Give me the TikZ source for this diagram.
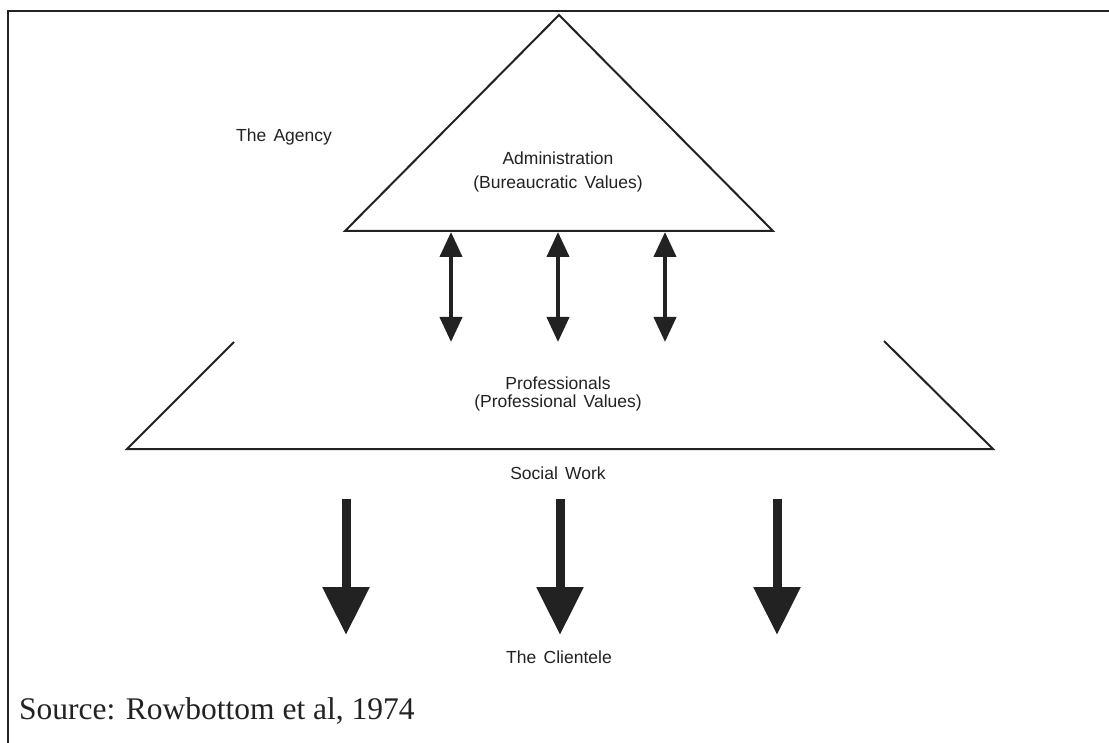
\documentclass[tikz,border=0pt]{standalone}
\usepackage{fontspec}
\setsansfont{Liberation Sans}[WordSpace=1.5]
\setmainfont{Liberation Serif}
\usetikzlibrary{arrows.meta}
\definecolor{ink}{HTML}{222222}
\begin{document}
\begin{tikzpicture}[x=1pt,y=-1pt,
  outline/.style={draw=ink,line width=2pt,line join=miter},
  lbl/.style={inner sep=0pt,font=\sffamily\fontsize{17.5}{21}\selectfont,text=ink,align=center},
  twoway/.style={draw=ink,line width=4pt,
    {Triangle[width=22pt,length=25pt]}-{Triangle[width=22pt,length=25pt]}},
  flow/.style={draw=ink,line width=9pt,-{Triangle[width=45pt,length=48pt]}}]
\useasboundingbox (0,0) rectangle (1109,743);
\fill[white] (0,0) rectangle (1109,743);

% frame
\draw[draw=ink,line width=2.5pt] (8,743) -- (8,11) -- (1109,11);

% administration triangle
\draw[outline] (345,231) -- (559,15) -- (773,231) -- cycle;

% professionals trapezoid (open at the top)
\draw[outline] (234,342) -- (127,449) -- (993,449) -- (884,341);

% labels
\node[lbl] (agency) at (284,137) {The Agency};
\node[lbl] (admin) at (558,158) {Administration};
\node[lbl] (bureau) at (558,184) {(Bureaucratic Values)};
\node[lbl] (prof) at (558,383) {Professionals};
\node[lbl] (profval) at (558,403) {(Professional Values)};
\node[lbl] (social) at (558,473) {Social Work};
\node[lbl] (client) at (559,657) {The Clientele};
\node[anchor=west,inner sep=0pt,font=\fontsize{31.5}{36}\selectfont,text=ink] (source) at (19,711) {Source: Rowbottom et al, 1974};

% two-way links between administration and professionals
\foreach \n/\x in {a/451,b/558,c/665}{
  \coordinate (up\n) at (\x,232);
  \coordinate (dn\n) at (\x,342);
  \draw[twoway] (up\n) -- (dn\n);
}

% social work flowing down to the clientele
\foreach \n/\x in {a/346,b/560,c/777}{
  \coordinate (sw\n) at (\x,499);
  \coordinate (cl\n) at (\x,635);
  \draw[flow] (sw\n) -- (cl\n);
}
\end{tikzpicture}
\end{document}
